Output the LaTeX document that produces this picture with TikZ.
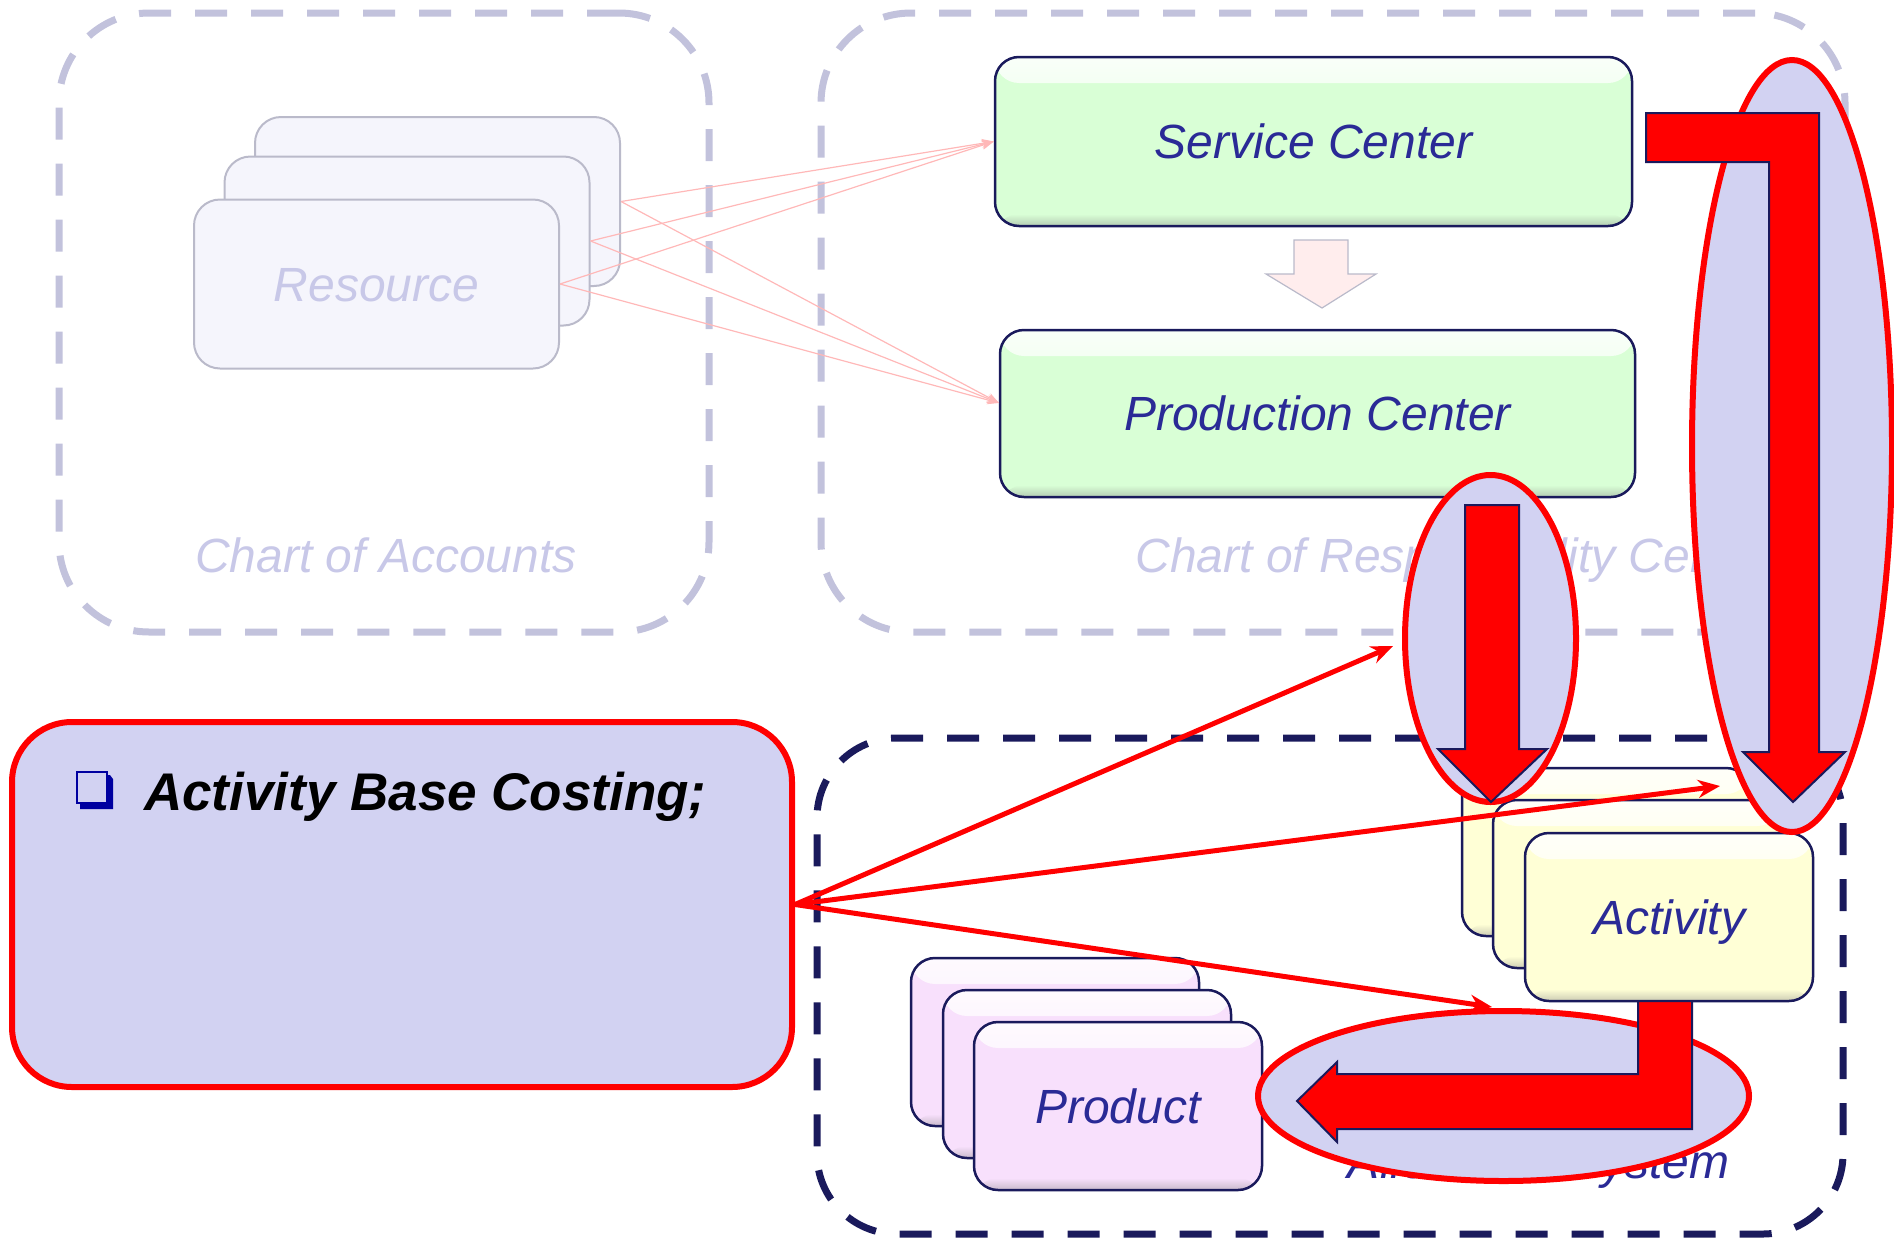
\documentclass[tikz,border=0pt]{standalone}
\usepackage{fontspec}
\setmainfont{Liberation Sans}
\usetikzlibrary{arrows.meta,shapes.geometric}

\definecolor{navy}{HTML}{1A1A5C}
\definecolor{txtblue}{HTML}{2A2A96}
\definecolor{lav}{HTML}{D2D2F2}
\definecolor{greenbox}{HTML}{D9FFD6}
\definecolor{yellowbox}{HTML}{FFFFD6}
\definecolor{pinkbox}{HTML}{F8E0FC}
\definecolor{fadeline}{HTML}{C2C2DC}
\definecolor{fadetext}{HTML}{C8C8E8}
\definecolor{fadebox}{HTML}{F5F5FC}
\definecolor{fadeedge}{HTML}{BABACA}
\definecolor{fadered}{HTML}{FFB8B8}
\definecolor{bulletblue}{HTML}{0000A0}

\newcommand\boxfont{\fontsize{48}{56}\selectfont\itshape}
\newcommand\abcfont{\fontsize{53}{62}\selectfont\bfseries\itshape}

\tikzset{
  bevel/.style={path picture={
    \shade[top color=#1!15!white, bottom color=#1]
      (path picture bounding box.north west) rectangle ([yshift=-26pt]path picture bounding box.north east);
    \shade[top color=#1, bottom color=#1!60!gray]
      ([yshift=12pt]path picture bounding box.south west) rectangle (path picture bounding box.south east);
  }},
  card/.style={rectangle, draw=navy, line width=2.5pt, rounded corners=24pt,
    inner sep=0pt, text=txtblue, font=\boxfont, fill=#1, bevel=#1,
    text height=34pt, text depth=0pt},
  fadecard/.style={rectangle, draw=fadeedge, line width=2pt, rounded corners=26pt,
    inner sep=0pt, fill=fadebox, text=fadetext, font=\boxfont,
    minimum width=365pt, minimum height=169pt, text height=34pt, text depth=0pt},
  frame/.style={rectangle, line width=7pt, dash pattern=on 32pt off 24pt,
    rounded corners=#1, inner sep=0pt},
  hl/.style={ellipse, draw=red, line width=6pt, fill=lav, inner sep=0pt},
  blockarrow/.style={fill=red, draw=navy, line width=2pt, line join=miter},
  redline/.style={draw=red, line width=5pt, -{Stealth[length=22pt,width=18pt]}},
  fadelink/.style={draw=fadered, line width=1.2pt, -{Stealth[length=12pt,width=9pt]}},
}

\begin{document}
\begin{tikzpicture}[x=1pt, y=-1pt]
\useasboundingbox (0,0) rectangle (1894,1237);

% faded upper frames
\node[frame=90pt, draw=fadeline, minimum width=650pt, minimum height=619pt] (coa) at (384,322.5) {};
\node[frame=90pt, draw=fadeline, minimum width=1024pt, minimum height=619pt] (corc) at (1333,322.5) {};
\node[font=\boxfont, text=fadetext, anchor=base] (coalbl) at (386,572) {Chart of Accounts};
\node[font=\boxfont, text=fadetext, anchor=base west] (corclbl) at (1132,572) {Chart of Responsibility Centers};

% resource stack
\node[fadecard] (rb) at (437.5,201.5) {};
\node[fadecard] (rm) at (407,241) {};
\node[fadecard] (rf) at (376.5,284) {Resource};

% responsibility centers
\node[card=greenbox, minimum width=637pt, minimum height=169pt] (sc) at (1313.5,141.5) {Service Center};
\node[card=greenbox, minimum width=635pt, minimum height=167pt] (pc) at (1317.5,413.5) {Production Center};

% faded hollow arrow between the centers
\draw[draw=fadeedge, fill=fadered!25!white, line width=1.2pt]
  (1294,240) -- (1348,240) -- (1348,274) -- (1376,274) -- (1322,308)
  -- (1266,274) -- (1294,274) -- cycle;

% faded resource links
\coordinate (scin) at (sc.west);
\coordinate (pcin) at (999,403);
\foreach \r in {rb,rm,rf} {
  \draw[fadelink] (\r.east) -- (scin);
  \draw[fadelink] (\r.east) -- (pcin);
}

% allocation frame
\node[frame=80pt, draw=navy, minimum width=1026pt, minimum height=496pt] (alloc) at (1330,986) {};
\node[font=\boxfont, text=txtblue, anchor=base east] (alloclbl) at (1733,1178) {Allocation System};

% activity stack
\node[card=yellowbox, minimum width=288pt, minimum height=168pt] (ab) at (1606,852) {};
\node[card=yellowbox, minimum width=288pt, minimum height=168pt] (am) at (1637,884) {};
\node[card=yellowbox, minimum width=288pt, minimum height=168pt] (af) at (1669,917) {Activity};

% product stack
\node[card=pinkbox, minimum width=288pt, minimum height=168pt] (pb) at (1055,1042) {};
\node[card=pinkbox, minimum width=288pt, minimum height=168pt] (pm) at (1087,1074) {};
\node[card=pinkbox, minimum width=288pt, minimum height=168pt] (pf) at (1118,1106) {Product};

% highlight ellipses
\node[hl, minimum width=200pt, minimum height=772pt] (eright) at (1792,446) {};
\node[hl, minimum width=171pt, minimum height=327pt] (emid) at (1490.5,638.5) {};
\node[hl, minimum width=491pt, minimum height=170pt] (ebot) at (1503.5,1096) {};

% block arrows
\draw[blockarrow] (1646,113) -- (1819,113) -- (1819,752) -- (1845,752) -- (1793,802)
  -- (1743,752) -- (1769,752) -- (1769,162) -- (1646,162) -- cycle;
\draw[blockarrow] (1465,505) -- (1519,505) -- (1519,749) -- (1547,749) -- (1491,802)
  -- (1438,749) -- (1465,749) -- cycle;
\draw[blockarrow] (1638,1001) -- (1638,1074) -- (1337,1074) -- (1337,1062) -- (1297,1101)
  -- (1337,1142) -- (1337,1129) -- (1692,1129) -- (1692,1001) -- cycle;

% activity base costing box
\node[rectangle, draw=red, line width=6pt, fill=lav, rounded corners=60pt,
  minimum width=780pt, minimum height=365pt, inner sep=0pt] (abc) at (402,904.5) {};
\fill[bulletblue] (80,775) -- (110,775) -- (113,779) -- (113,809) -- (80,809) -- cycle;
\fill[lav] (77,772) rectangle (107,803);
\draw[bulletblue, line width=2pt] (77,772) rectangle (107,803);
\node[font=\abcfont, anchor=base west, inner sep=0pt] (abctext) at (144,810) {Activity Base Costing;};

% links from the costing box
\coordinate (t1) at (1393,646);
\coordinate (t2) at (1720,786);
\coordinate (t3) at (1492,1007);
\draw[redline] (abc.east) -- (t1);
\draw[redline] (abc.east) -- (t2);
\draw[redline] (abc.east) -- (t3);
\end{tikzpicture}
\end{document}
